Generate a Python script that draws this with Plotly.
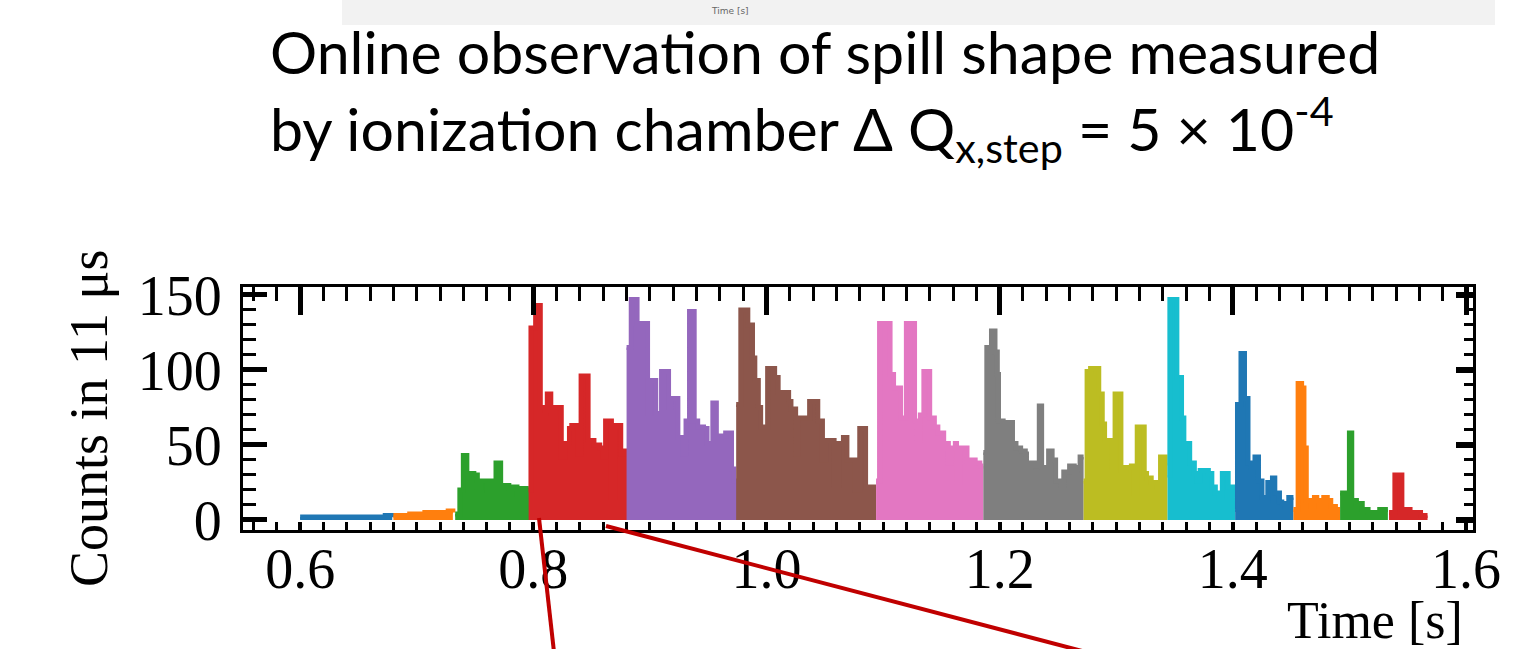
import plotly.graph_objects as go

# ---------------- data ----------------
seg01_t = [0.600, 0.617, 0.639, 0.660, 0.673, 0.679]
seg01_c = [2, 2, 2, 2, 3, 2]

seg02_t = [0.680, 0.694, 0.707, 0.720, 0.727, 0.731]
seg02_c = [3, 4, 5, 5, 6, 5]

seg03_t = [0.733, 0.737, 0.740, 0.743, 0.749, 0.752, 0.755, 0.760, 0.761, 0.765,
           0.768, 0.772, 0.779, 0.783, 0.786, 0.790, 0.794, 0.796, 0.798]
seg03_c = [4, 20, 43, 31, 30, 22, 26, 20, 26, 20, 38, 23, 21, 22, 17, 21, 20, 14, 14]

seg04_t = [0.796, 0.798, 0.802, 0.806, 0.810, 0.812, 0.815, 0.819, 0.824, 0.827,
           0.831, 0.833, 0.838, 0.841, 0.847, 0.852, 0.857, 0.860, 0.862, 0.867,
           0.870, 0.875, 0.879, 0.881]
seg04_c = [20, 128, 143, 75, 73, 84, 71, 75, 42, 51, 61, 63, 44, 96, 53, 50, 48, 42,
           66, 15, 63, 44, 46, 46]

seg05_t = [0.880, 0.884, 0.889, 0.898, 0.900, 0.905, 0.910, 0.916, 0.918, 0.924,
           0.928, 0.931, 0.934, 0.938, 0.941, 0.946, 0.949, 0.954, 0.957, 0.961,
           0.965, 0.970, 0.972, 0.975]
seg05_c = [115, 147, 131, 71, 93, 71, 99, 75, 81, 55, 44, 66, 139, 66, 62, 61, 51, 78,
           55, 56, 58, 34, 26, 26]

seg06_t = [0.974, 0.978, 0.984, 0.988, 0.990, 0.993, 0.995, 1.001, 1.007, 1.010,
           1.019, 1.021, 1.025, 1.027, 1.037, 1.044, 1.048, 1.051, 1.058, 1.062,
           1.066, 1.069, 1.076, 1.080, 1.085, 1.094]
seg06_c = [77, 140, 130, 108, 93, 75, 62, 101, 95, 85, 79, 74, 44, 68, 79, 66, 40, 53,
           23, 51, 55, 40, 20, 61, 22, 22]

seg07_t = [1.094, 1.097, 1.106, 1.109, 1.115, 1.120, 1.127, 1.129, 1.132, 1.135,
           1.140, 1.144, 1.147, 1.152, 1.156, 1.158, 1.162, 1.163, 1.166, 1.172,
           1.175, 1.179, 1.183, 1.186]
seg07_c = [26, 131, 97, 88, 68, 131, 66, 53, 70, 99, 68, 62, 58, 51, 38, 48, 51, 25,
           48, 35, 40, 38, 36, 36]

seg08_t = [1.186, 1.189, 1.193, 1.196, 1.198, 1.199, 1.203, 1.211, 1.214, 1.218,
           1.222, 1.223, 1.227, 1.230, 1.234, 1.236, 1.242, 1.245, 1.248, 1.253,
           1.255, 1.260, 1.264, 1.266, 1.269, 1.272]
seg08_c = [45, 115, 126, 112, 97, 66, 65, 51, 48, 46, 44, 35, 38, 36, 76, 35, 46, 40,
           26, 23, 32, 36, 33, 35, 42, 42]

seg09_t = [1.272, 1.275, 1.278, 1.285, 1.288, 1.290, 1.296, 1.299, 1.304, 1.308,
           1.313, 1.315, 1.318, 1.324, 1.326, 1.330, 1.335, 1.338, 1.342, 1.344]
seg09_c = [26, 99, 101, 84, 64, 53, 35, 84, 33, 35, 36, 18, 62, 31, 28, 25, 22, 42,
           38, 38]

seg10_t = [1.344, 1.346, 1.352, 1.356, 1.358, 1.363, 1.367, 1.369, 1.372, 1.379,
           1.382, 1.385, 1.388, 1.391, 1.396, 1.402]
seg10_c = [30, 147, 95, 68, 51, 38, 31, 26, 33, 31, 22, 18, 15, 31, 22, 22]

seg11_t = [1.402, 1.404, 1.407, 1.410, 1.413, 1.416, 1.419, 1.422, 1.425, 1.428,
           1.430, 1.434, 1.436, 1.440, 1.442, 1.445, 1.448, 1.452]
seg11_c = [7, 77, 111, 81, 38, 35, 42, 26, 15, 13, 25, 28, 18, 12, 11, 9, 15, 15]

seg12_t = [1.452, 1.456, 1.459, 1.461, 1.463, 1.467, 1.470, 1.472, 1.478, 1.481,
           1.484, 1.488, 1.492]
seg12_c = [7, 91, 88, 48, 13, 9, 15, 13, 15, 13, 9, 7, 7]

seg13_t = [1.492, 1.500, 1.502, 1.506, 1.511, 1.516, 1.526, 1.533]
seg13_c = [18, 58, 13, 11, 7, 5, 7, 7]

seg14_t = [1.534, 1.539, 1.545, 1.552, 1.561, 1.567]
seg14_c = [5, 30, 7, 5, 3, 3]

segment_times = [seg01_t, seg02_t, seg03_t, seg04_t, seg05_t, seg06_t, seg07_t,
                 seg08_t, seg09_t, seg10_t, seg11_t, seg12_t, seg13_t, seg14_t]
segment_counts = [seg01_c, seg02_c, seg03_c, seg04_c, seg05_c, seg06_c, seg07_c,
                  seg08_c, seg09_c, seg10_c, seg11_c, seg12_c, seg13_c, seg14_c]

tab10 = ["#1f77b4", "#ff7f0e", "#2ca02c", "#d62728", "#9467bd", "#8c564b",
         "#e377c2", "#7f7f7f", "#bcbd22", "#17becf"]

x_tick_values = [0.6, 0.8, 1.0, 1.2, 1.4, 1.6]
x_tick_labels = ["0.6", "0.8", "1.0", "1.2", "1.4", "1.6"]
y_tick_values = [0, 50, 100, 150]

# ---------------- figure ----------------
W, H = 1539, 649
L, R, T, B = 243, 1473, 287, 530  # plot-area pixel box


def px_x(p):
    return (p - L) / (R - L)


def px_y(p):
    return (B - p) / (B - T)


fig = go.Figure()
for i, (t, c) in enumerate(zip(segment_times, segment_counts)):
    col = tab10[i % 10]
    fig.add_trace(go.Scatter(
        x=t, y=c, mode="lines",
        line=dict(color=col, width=5, shape="hv"),
        fill="tozeroy", fillcolor=col,
        showlegend=False, hoverinfo="skip"))

# empty trace to host the mirrored (top / right) axes
fig.add_trace(go.Scatter(x=[], y=[], xaxis="x2", yaxis="y2",
                         showlegend=False, hoverinfo="skip"))

serif = "Liberation Serif"
xr = [0.551, 1.606]
yr = [-6.7, 155.3]

fig.update_layout(
    width=W, height=H,
    margin=dict(l=L, r=W - R, t=T, b=H - B, pad=0),
    paper_bgcolor="white", plot_bgcolor="white",
    showlegend=False,
    xaxis=dict(
        range=xr, domain=[0, 1], anchor="y",
        tickmode="array", tickvals=x_tick_values, ticktext=x_tick_labels,
        ticks="inside", ticklen=8, tickwidth=4, tickcolor="black",
        minor=dict(tickmode="linear", tick0=0.6, dtick=0.02, ticks="inside",
                   ticklen=8, tickwidth=3, tickcolor="black", showgrid=False),
        showline=True, linewidth=3, linecolor="black", mirror=False,
        showgrid=False, zeroline=False,
        tickfont=dict(family=serif, size=56, color="black"),
        ticklabelstandoff=-12,
    ),
    yaxis=dict(
        range=yr, domain=[0, 1], anchor="x",
        tickmode="array", tickvals=y_tick_values,
        ticks="inside", ticklen=24, tickwidth=5, tickcolor="black",
        minor=dict(tickmode="linear", tick0=0, dtick=10, ticks="inside",
                   ticklen=13, tickwidth=3, tickcolor="black", showgrid=False),
        showline=True, linewidth=3, linecolor="black", mirror=False,
        showgrid=False, zeroline=False,
        tickfont=dict(family=serif, size=56, color="black"),
        ticklabelstandoff=7,
    ),
    xaxis2=dict(
        range=xr, overlaying="x", side="top", anchor="y2",
        tickmode="array", tickvals=x_tick_values,
        showticklabels=False,
        ticks="inside", ticklen=28, tickwidth=5, tickcolor="black",
        minor=dict(tickmode="linear", tick0=0.6, dtick=0.02, ticks="inside",
                   ticklen=14, tickwidth=3, tickcolor="black", showgrid=False),
        showline=True, linewidth=3, linecolor="black",
        showgrid=False, zeroline=False,
    ),
    yaxis2=dict(
        range=yr, overlaying="y", side="right", anchor="x2",
        tickmode="array", tickvals=y_tick_values,
        showticklabels=False,
        ticks="inside", ticklen=17, tickwidth=6, tickcolor="black",
        minor=dict(tickmode="linear", tick0=0, dtick=10, ticks="inside",
                   ticklen=9, tickwidth=3, tickcolor="black", showgrid=False),
        showline=True, linewidth=3, linecolor="black",
        showgrid=False, zeroline=False,
    ),
)

# grey strip at the very top (remnant of another figure)
fig.add_shape(type="rect", xref="paper", yref="paper",
              x0=px_x(342), x1=px_x(1495), y0=px_y(25), y1=px_y(-2),
              fillcolor="#f2f2f2", line=dict(width=0), layer="below")
fig.add_annotation(xref="paper", yref="paper", x=px_x(730), y=px_y(11),
                   text="Time [s]", showarrow=False, xanchor="center",
                   yanchor="middle",
                   font=dict(family="DejaVu Sans", size=9, color="#666666"))

# title (two lines in one text block)
title_font = dict(family="Lato", size=59, color="black")
fig.add_annotation(xref="paper", yref="paper", x=px_x(268), y=px_y(14),
                   text=("Online observation of spill shape measured<br>"
                         "by ionization chamber \u0394 Q<sub>x,step</sub> = 5 "
                         "\u00d7 10<sup>-4</sup>"),
                   showarrow=False, xanchor="left", yanchor="top", align="left",
                   font=title_font)

# axis titles
fig.add_annotation(xref="paper", yref="paper", x=px_x(89), y=px_y(418),
                   text="Counts in 11 \u03bcs", textangle=-90, showarrow=False,
                   xanchor="center", yanchor="middle",
                   font=dict(family=serif, size=54, color="black"))
fig.add_annotation(xref="paper", yref="paper", x=px_x(1375), y=px_y(651),
                   text="Time [s]", showarrow=False,
                   xanchor="center", yanchor="bottom",
                   font=dict(family=serif, size=52, color="black"))

# red pointer lines
red = "#c00000"
fig.add_shape(type="line", xref="paper", yref="paper",
              x0=px_x(539), y0=px_y(518), x1=px_x(554), y1=px_y(652),
              line=dict(color=red, width=4))
fig.add_shape(type="line", xref="paper", yref="paper",
              x0=px_x(606), y0=px_y(526), x1=px_x(1086), y1=px_y(652),
              line=dict(color=red, width=4))

fig.write_html("out.html")
